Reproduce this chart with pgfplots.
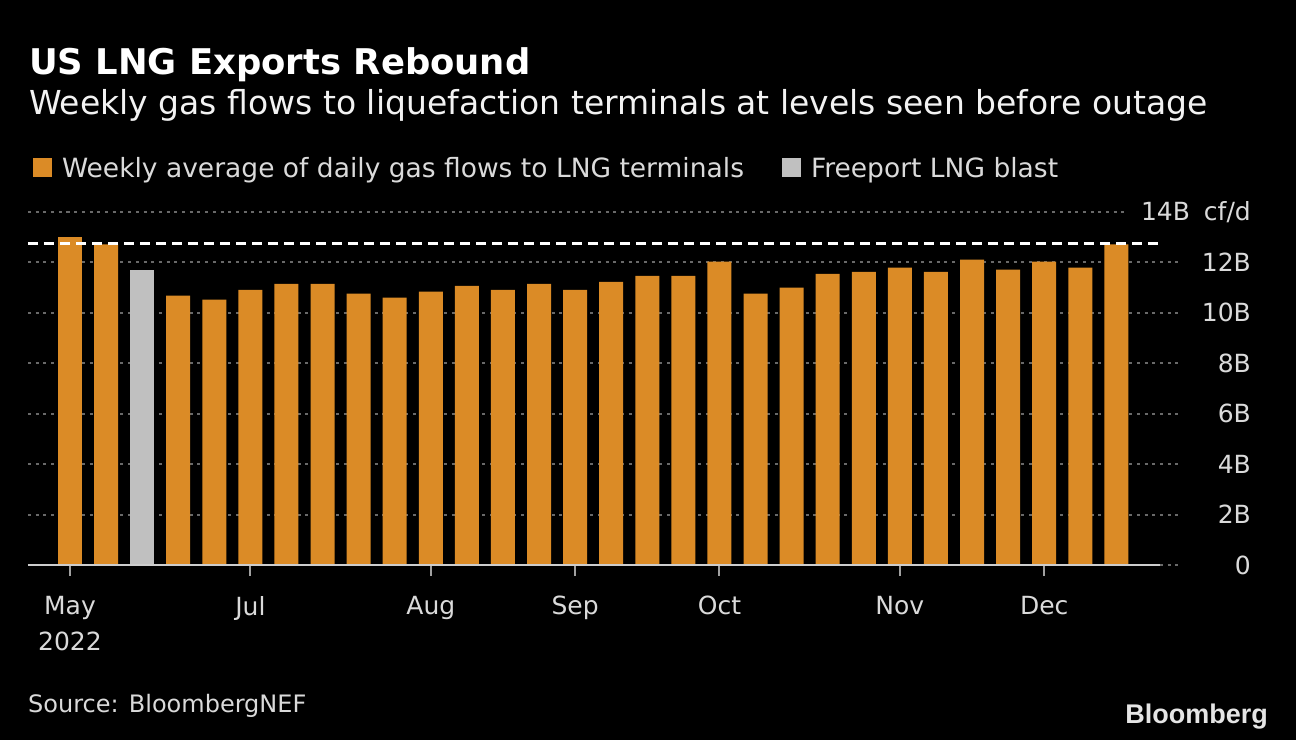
\documentclass[border=0pt]{standalone}
\usepackage{fontspec}
\setmainfont{DejaVu Sans}
\newfontfamily\logofont{Liberation Sans}
\usepackage{pgfplots}
\usepackage{pgfplotstable}
\pgfplotsset{compat=1.18}
\definecolor{barorange}{RGB}{219,139,38}
\definecolor{bargray}{RGB}{192,192,192}
\definecolor{gridgray}{RGB}{105,105,105}
\definecolor{labelgray}{RGB}{218,218,218}
\definecolor{axisgray}{RGB}{205,205,205}
\definecolor{tickgray}{RGB}{160,160,160}

\pgfplotstableread{
x y
0 13.0
1 12.72
3 10.68
4 10.52
5 10.91
6 11.15
7 11.15
8 10.76
9 10.60
10 10.84
11 11.07
12 10.91
13 11.15
14 10.91
15 11.23
16 11.47
17 11.47
18 12.03
19 10.76
20 11.00
21 11.55
22 11.63
23 11.79
24 11.63
25 12.11
26 11.71
27 12.03
28 11.79
29 12.72
}\orangedata
\pgfplotstableread{
x y
2 11.71
}\graydata

\begin{document}
\begin{tikzpicture}[x=1pt,y=1pt]
\fill[black] (0,0) rectangle (1296,740);
\coordinate (axpos) at (28,175);
\node[anchor=base west, inner sep=0pt, text=white, font=\fontsize{35.4}{40}\selectfont\bfseries] at (29,665) {US LNG Exports Rebound};
\node[anchor=base west, inner sep=0pt, text=white!95!black, font=\fontsize{33}{38}\selectfont] at (29,625) {Weekly gas flows to liquefaction terminals at levels seen before outage};
\node[anchor=base west, inner sep=0pt, text=labelgray, font=\fontsize{24}{28}\selectfont] at (28,28) {Source: BloombergNEF};
\node[anchor=base east, inner sep=0pt, text=white!90!black, font=\logofont\bfseries\fontsize{27}{30}\selectfont] at (1268,17) {Bloomberg};
\begin{axis}[
  at={(axpos)}, anchor=south west,
  scale only axis, width=1154pt, height=353pt,
  xmin=-1.164, xmax=30.82, ymin=0, ymax=14,
  clip=false,
  axis line style={draw=none},
  xtick={0,5,10,14,18,23,27},
  xticklabels={{May\\2022},Jul,Aug,Sep,Oct,Nov,Dec},
  xtick pos=bottom,
  tick align=outside,
  major tick length=11pt,
  xtick style={draw=tickgray, line width=2pt},
  ytick={0,2,4,6,8,10,12},
  yticklabels={0,2B,4B,6B,8B,10B,12B},
  ytick pos=right, yticklabel pos=right,
  ytick style={draw=none},
  extra y ticks={14},
  extra y tick labels={14B\hspace{14pt}cf/d},
  extra y tick style={grid=none},
  ymajorgrids,
  major grid style={draw=gridgray, line width=2pt, dash pattern=on 3pt off 4.7pt},
  yticklabel style={anchor=east, xshift=58pt, inner sep=0pt, text=labelgray, font=\fontsize{25}{30}\selectfont},
  xticklabel style={anchor=north, align=center, inner sep=0pt, yshift=-20pt, text=labelgray, font=\fontsize{25}{36}\selectfont},
  legend columns=2,
  legend style={draw=none, fill=none, text=labelgray, font=\fontsize{26.5}{30}\selectfont,
    inner sep=0pt, outer sep=0pt, nodes={inner sep=0pt, text depth=0pt},
    cells={anchor=base west},
    at={(0.00433,1.1561)}, anchor=north west,
    /tikz/every odd column/.append style={column sep=10pt},
    /tikz/every even column/.append style={column sep=38pt}},
]
\addplot[ybar, bar width=0.665, bar shift=0pt, fill=barorange, draw=none,
  legend image code/.code={\fill[barorange] (0pt,0pt) rectangle (19pt,19pt);}]
  table[x=x,y=y]{\orangedata};
\addlegendentry{Weekly average of daily gas flows to LNG terminals}
\addplot[ybar, bar width=0.665, bar shift=0pt, fill=bargray, draw=none,
  legend image code/.code={\fill[bargray] (0pt,0pt) rectangle (19pt,19pt);}]
  table[x=x,y=y]{\graydata};
\addlegendentry{Freeport LNG blast}
\addplot[white, line width=3pt, dash pattern=on 10pt off 6pt, forget plot]
  coordinates {(-1.164,12.77) (30.163,12.77)};
\draw[gridgray, line width=2pt, dash pattern=on 3pt off 4.7pt] (axis cs:-1.164,14) -- (axis cs:29.3,14);
\draw[axisgray, line width=2pt] (axis cs:-1.164,0) -- (axis cs:30.22,0);
\end{axis}
\end{tikzpicture}
\end{document}
